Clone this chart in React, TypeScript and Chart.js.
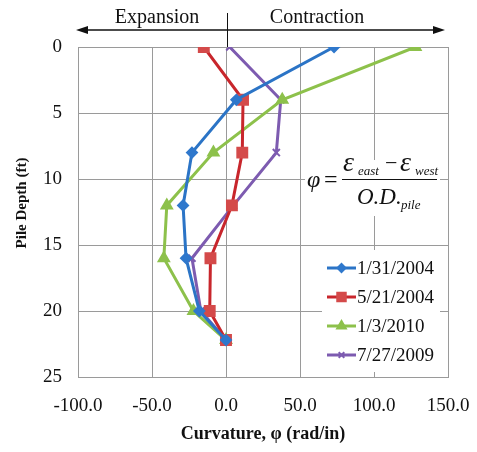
import React, { useEffect, useRef } from "react";
import { Chart, registerables } from "chart.js";
import { drawPoint } from "chart.js/helpers";

Chart.register(...registerables);

const depths = [0, 4, 8, 12, 16, 20, 22.2];
const seriesNames = ["1/31/2004", "5/21/2004", "1/3/2010", "7/27/2009"];
const curv20040131 = [73, 7, -23, -29, -27, -18, 0];
const curv20040521 = [-15, 11.5, 11, 4, -10.5, -11, 0];
const curv20100103 = [128, 38, -8.5, -40, -42, -22, 0];
const curv20090727 = [2.5, 37, 34, 5, -23, -17, 0];
const xTicks = [-100, -50, 0, 50, 100, 150];
const yTicks = [0, 5, 10, 15, 20, 25];
const yTitle = "Pile Depth (ft)";
const xTitle = "Curvature, φ (rad/in)";

const SERIF = "'Liberation Serif', 'Times New Roman', serif";

const styles = [
  { line: "#2b74c6", point: "#2f78cc", shape: "rectRot", r: 5 },
  { line: "#c8262c", point: "#d44a4a", shape: "rect", r: 7 },
  { line: "#8dc14b", point: "#8dc14b", shape: "triangle", r: 6 },
  { line: "#7d5bb0", point: "#7d5bb0", shape: "crossRot", r: 5 },
];

const allValues = [curv20040131, curv20040521, curv20100103, curv20090727];

const overlayPlugin = {
  id: "overlay",
  beforeDatasetsDraw(chart: any) {
    const ctx = chart.ctx;
    ctx.save();
    ctx.fillStyle = "#ffffff";
    ctx.fillRect(305, 160, 135, 56);
    ctx.fillRect(322, 250, 118, 122);
    ctx.restore();
  },
  afterDraw(chart: any) {
    const ctx = chart.ctx;
    const x0 = chart.scales.x.getPixelForValue(0);
    const area = chart.chartArea;
    ctx.save();
    ctx.fillStyle = "#111";
    ctx.strokeStyle = "#111";
    ctx.font = `20px ${SERIF}`;
    ctx.textAlign = "center";
    ctx.textBaseline = "alphabetic";
    ctx.fillText("Expansion", 157, 23);
    ctx.fillText("Contraction", 317, 23);
    ctx.lineWidth = 1.5;
    ctx.beginPath();
    ctx.moveTo(85, 30);
    ctx.lineTo(436, 30);
    ctx.stroke();
    ctx.beginPath();
    ctx.moveTo(76, 30);
    ctx.lineTo(88, 26);
    ctx.lineTo(88, 34);
    ctx.closePath();
    ctx.fill();
    ctx.beginPath();
    ctx.moveTo(445, 30);
    ctx.lineTo(433, 26);
    ctx.lineTo(433, 34);
    ctx.closePath();
    ctx.fill();
    ctx.lineWidth = 1;
    ctx.beginPath();
    ctx.moveTo(x0 + 1.5, 13);
    ctx.lineTo(x0 + 1.5, area.top);
    ctx.stroke();

    // y axis title
    ctx.save();
    ctx.translate(22, 203);
    ctx.rotate(-Math.PI / 2);
    ctx.font = `bold 15px ${SERIF}`;
    ctx.textAlign = "center";
    ctx.textBaseline = "middle";
    ctx.fillText(yTitle, 0, 0);
    ctx.restore();

    // formula
    ctx.fillStyle = "#111";
    ctx.textAlign = "left";
    ctx.textBaseline = "alphabetic";
    ctx.font = `italic 24px ${SERIF}`;
    ctx.fillText("φ", 307, 187);
    ctx.font = `24px ${SERIF}`;
    ctx.fillText("=", 324, 187);
    ctx.font = `italic 28px ${SERIF}`;
    ctx.fillText("ε", 343, 171);
    ctx.font = `italic 13px ${SERIF}`;
    ctx.fillText("east", 358, 175);
    ctx.font = `22px ${SERIF}`;
    ctx.fillText("−", 385, 170);
    ctx.font = `italic 28px ${SERIF}`;
    ctx.fillText("ε", 400, 171);
    ctx.font = `italic 13px ${SERIF}`;
    ctx.fillText("west", 415, 175);
    ctx.lineWidth = 1.2;
    ctx.beginPath();
    ctx.moveTo(342, 179.5);
    ctx.lineTo(437, 179.5);
    ctx.stroke();
    ctx.font = `italic 23px ${SERIF}`;
    ctx.fillText("O.D.", 357, 204);
    ctx.font = `italic 13px ${SERIF}`;
    ctx.fillText("pile", 401, 209);

    // legend
    const rows = [268, 297, 326, 355];
    seriesNames.forEach((name, i) => {
      const st = styles[i];
      const y = rows[i];
      ctx.strokeStyle = st.line;
      ctx.lineWidth = 3;
      ctx.beginPath();
      ctx.moveTo(327, y);
      ctx.lineTo(356, y);
      ctx.stroke();
      ctx.fillStyle = st.point;
      ctx.strokeStyle = st.point;
      ctx.lineWidth = 2;
      drawPoint(ctx, { pointStyle: st.shape, radius: st.r - 1, borderWidth: 2, rotation: 0 } as any, 341.5, y);
      ctx.fillStyle = "#111";
      ctx.font = `19px ${SERIF}`;
      ctx.textAlign = "left";
      ctx.textBaseline = "middle";
      ctx.fillText(name, 357, y + 1);
    });
    ctx.restore();
  },
};

export default function App() {
  const ref = useRef<HTMLCanvasElement | null>(null);
  useEffect(() => {
    if (!ref.current) return;
    const datasets = allValues.map((vals, i) => ({
      label: seriesNames[i],
      data: vals.map((v, k) => ({ x: v, y: depths[k] })),
      showLine: true,
      borderColor: styles[i].line,
      backgroundColor: styles[i].point,
      pointBackgroundColor: styles[i].point,
      pointBorderColor: styles[i].point,
      borderWidth: 3,
      pointStyle: styles[i].shape,
      pointRadius: styles[i].r,
      pointBorderWidth: 2,
    }));
    const chart = new Chart(ref.current, {
      type: "scatter",
      data: { datasets },
      options: {
        responsive: false,
        animation: false,
        events: [],
        layout: { padding: { top: 47, right: 29, left: 0, bottom: 0 } },
        plugins: { legend: { display: false }, tooltip: { enabled: false } },
        scales: {
          x: {
            type: "linear",
            min: -100,
            max: 150,
            afterBuildTicks: (s: any) => {
              s.ticks = xTicks.map((v) => ({ value: v }));
            },
            afterFit: (s: any) => {
              s.height = 75;
              s.paddingLeft = 0;
              s.paddingRight = 0;
            },
            grid: { color: "#9a9a9a", drawTicks: false, lineWidth: 1 },
            border: { color: "#9a9a9a" },
            ticks: {
              padding: 18,
              color: "#111",
              font: { family: SERIF, size: 19 },
              callback: (v: any) => Number(v).toFixed(1),
            },
            title: {
              display: true,
              text: xTitle,
              color: "#111",
              font: { family: SERIF, size: 18, weight: "bold" },
              padding: { top: 0, bottom: 7 },
            },
          },
          y: {
            type: "linear",
            reverse: true,
            min: 0,
            max: 25,
            afterBuildTicks: (s: any) => {
              s.ticks = yTicks.map((v) => ({ value: v }));
            },
            afterFit: (s: any) => {
              s.width = 78;
              s.paddingTop = 0;
              s.paddingBottom = 0;
            },
            grid: { color: "#9a9a9a", drawTicks: false, lineWidth: 1 },
            border: { color: "#9a9a9a" },
            ticks: {
              padding: 16,
              color: "#111",
              font: { family: SERIF, size: 19 },
            },
            title: { display: false },
          },
        },
      },
      plugins: [overlayPlugin],
    } as any);
    return () => chart.destroy();
  }, []);
  return (
    <div style={{ position: "fixed", left: 0, top: 0, width: 477, height: 452, background: "#fff" }}>
      <canvas ref={ref} width={477} height={452} style={{ width: 477, height: 452, display: "block" }} />
    </div>
  );
}
